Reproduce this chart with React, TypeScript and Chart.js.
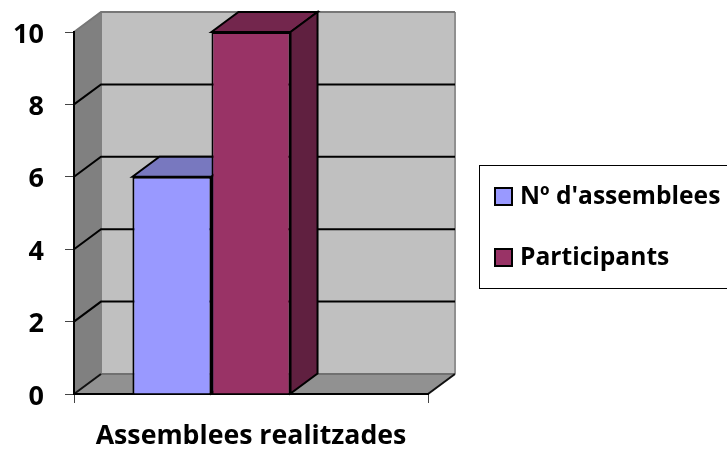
import React, { useEffect, useRef } from "react";
import { Chart, registerables } from "chart.js";

Chart.register(...registerables);

const categories = ["Assemblees realitzades"];
const assemblees = [6];
const participants = [10];
// The source chart reserves a third, empty series slot: it is why the bars sit left of centre.
const emptySlot: (number | null)[] = [null];
const yTicks = [0, 2, 4, 6, 8, 10];

const FONT = "'Open Sans', sans-serif";
const DEPTH_X = 27;
const DEPTH_Y = 20;

function poly(ctx: CanvasRenderingContext2D, pts: number[][], fill: string | null, stroke: string | null, lw = 2) {
  ctx.beginPath();
  pts.forEach((p, i) => (i ? ctx.lineTo(p[0], p[1]) : ctx.moveTo(p[0], p[1])));
  if (fill) {
    ctx.closePath();
    ctx.fillStyle = fill;
    ctx.fill();
  }
  if (stroke) {
    ctx.strokeStyle = stroke;
    ctx.lineWidth = lw;
    ctx.stroke();
  }
}

const walls = {
  id: "walls",
  beforeDraw(chart: any) {
    const { ctx, chartArea: a, scales } = chart;
    const { left: l, right: r, top: t, bottom: b } = a;
    const dx = DEPTH_X;
    const dy = DEPTH_Y;
    ctx.save();
    poly(ctx, [[l + dx, t - dy], [r + dx, t - dy], [r + dx, b - dy], [l + dx, b - dy]], "#C0C0C0", null);
    poly(ctx, [[l, t], [l + dx, t - dy], [l + dx, b - dy], [l, b]], "#808080", null);
    poly(ctx, [[l, b], [l + dx, b - dy], [r + dx, b - dy], [r, b]], "#919191", null);
    poly(ctx, [[l + dx, t - dy], [l + dx, b - dy]], null, "#808080");
    poly(ctx, [[r + dx, t - dy], [r + dx, b - dy]], null, "#909090");
    poly(ctx, [[l + dx, b - dy], [r + dx, b - dy]], null, "#707070");
    yTicks.forEach((v) => {
      const y = scales.y.getPixelForValue(v);
      if (v === 10) {
        poly(ctx, [[l, y], [l + dx, y - dy], [r + dx, y - dy]], null, "#777777");
      } else if (v === 0) {
        poly(ctx, [[l, y], [l + dx, y - dy]], null, "#111111");
        poly(ctx, [[r, y], [r + dx, y - dy]], null, "#111111");
        poly(ctx, [[l, y], [r, y]], null, "#000000");
      } else {
        poly(ctx, [[l, y], [l + dx, y - dy], [r + dx, y - dy]], null, "#000000");
      }
    });
    ctx.restore();
  },
};

const shade: Record<string, string[]> = {
  "#9999FF": ["#7878BF", "#60609F"],
  "#993366": ["#73264D", "#602040"],
};

const bars3d = {
  id: "bars3d",
  beforeDatasetsDraw(chart: any) {
    const { ctx } = chart;
    const dx = DEPTH_X;
    const dy = DEPTH_Y;
    ctx.save();
    chart.data.datasets.forEach((ds: any, i: number) => {
      chart.getDatasetMeta(i).data.forEach((bar: any, j: number) => {
        if (ds.data[j] == null) return;
        const { x, y, base, width } = bar.getProps(["x", "y", "base", "width"], true);
        const l = x - width / 2;
        const r = x + width / 2;
        const [topC, sideC] = shade[ds.backgroundColor];
        poly(ctx, [[l, y], [l + dx, y - dy], [r + dx, y - dy], [r, y]], topC, "#000000");
        poly(ctx, [[r, y], [r + dx, y - dy], [r + dx, base - dy], [r, base]], sideC, "#000000");
      });
    });
    ctx.restore();
  },
};

const legendBox = {
  id: "legendBox",
  afterDraw(chart: any) {
    const { ctx } = chart;
    ctx.save();
    ctx.strokeStyle = "#000000";
    ctx.lineWidth = 1;
    ctx.strokeRect(479.5, 165.5, 260, 123);
    ctx.font = `bold 24.6px ${FONT}`;
    ctx.textBaseline = "middle";
    ctx.textAlign = "left";
    const rows = [196, 257];
    chart.data.datasets
      .filter((d: any) => d.label)
      .forEach((d: any, i: number) => {
        ctx.fillStyle = d.backgroundColor;
        ctx.fillRect(495, rows[i] - 8, 17, 17);
        ctx.strokeStyle = "#000000";
        ctx.lineWidth = 2;
        ctx.strokeRect(495, rows[i] - 8, 17, 17);
        ctx.fillStyle = "#000000";
        ctx.fillText(d.label, 520, rows[i] + 1);
      });
    ctx.restore();
  },
};

export default function App() {
  const ref = useRef<HTMLCanvasElement>(null);
  useEffect(() => {
    const chart = new Chart(ref.current as HTMLCanvasElement, {
      type: "bar",
      data: {
        labels: categories,
        datasets: [
          { label: "Nº d'assemblees", data: assemblees, backgroundColor: "#9999FF", borderColor: "#000000", borderWidth: 2 },
          { label: "Participants", data: participants, backgroundColor: "#993366", borderColor: "#000000", borderWidth: 2 },
          { label: "", data: emptySlot, backgroundColor: "#FFFFFF" },
        ],
      },
      options: {
        responsive: false,
        animation: false,
        layout: { padding: { top: 32, right: 299, left: 0, bottom: 0 } },
        datasets: { bar: { categoryPercentage: 0.67, barPercentage: 1 } },
        plugins: { legend: { display: false }, tooltip: { enabled: false } },
        scales: {
          x: {
            afterFit: (s: any) => { s.height = 58; s.paddingLeft = 0; s.paddingRight = 0; },
            grid: { drawOnChartArea: false, offset: true, drawTicks: true, tickLength: 9, color: "#444444", lineWidth: 1 },
            border: { color: "#000000", width: 2 },
            ticks: { display: false },
            title: { display: true, text: categories[0], color: "#000000", font: { family: FONT, size: 26.7, weight: "bold" }, padding: { top: 0, bottom: 0 } },
          },
          y: {
            min: 0,
            max: 10,
            afterFit: (s: any) => { s.width = 74; s.paddingTop = 0; s.paddingBottom = 0; },
            afterBuildTicks: (s: any) => { s.ticks = yTicks.map((value) => ({ value })); },
            grid: { drawOnChartArea: false, drawTicks: true, tickLength: 9, color: "#444444", lineWidth: 1 },
            border: { color: "#000000", width: 2 },
            ticks: { color: "#000000", padding: 21, labelOffset: 3, font: { family: FONT, size: 27, weight: "bold" } },
          },
        },
      } as any,
      plugins: [walls, bars3d, legendBox],
    });
    return () => chart.destroy();
  }, []);
  return (
    <div style={{ position: "fixed", left: 0, top: 0 }}>
      <canvas ref={ref} width={727} height={452} style={{ display: "block" }} />
    </div>
  );
}
